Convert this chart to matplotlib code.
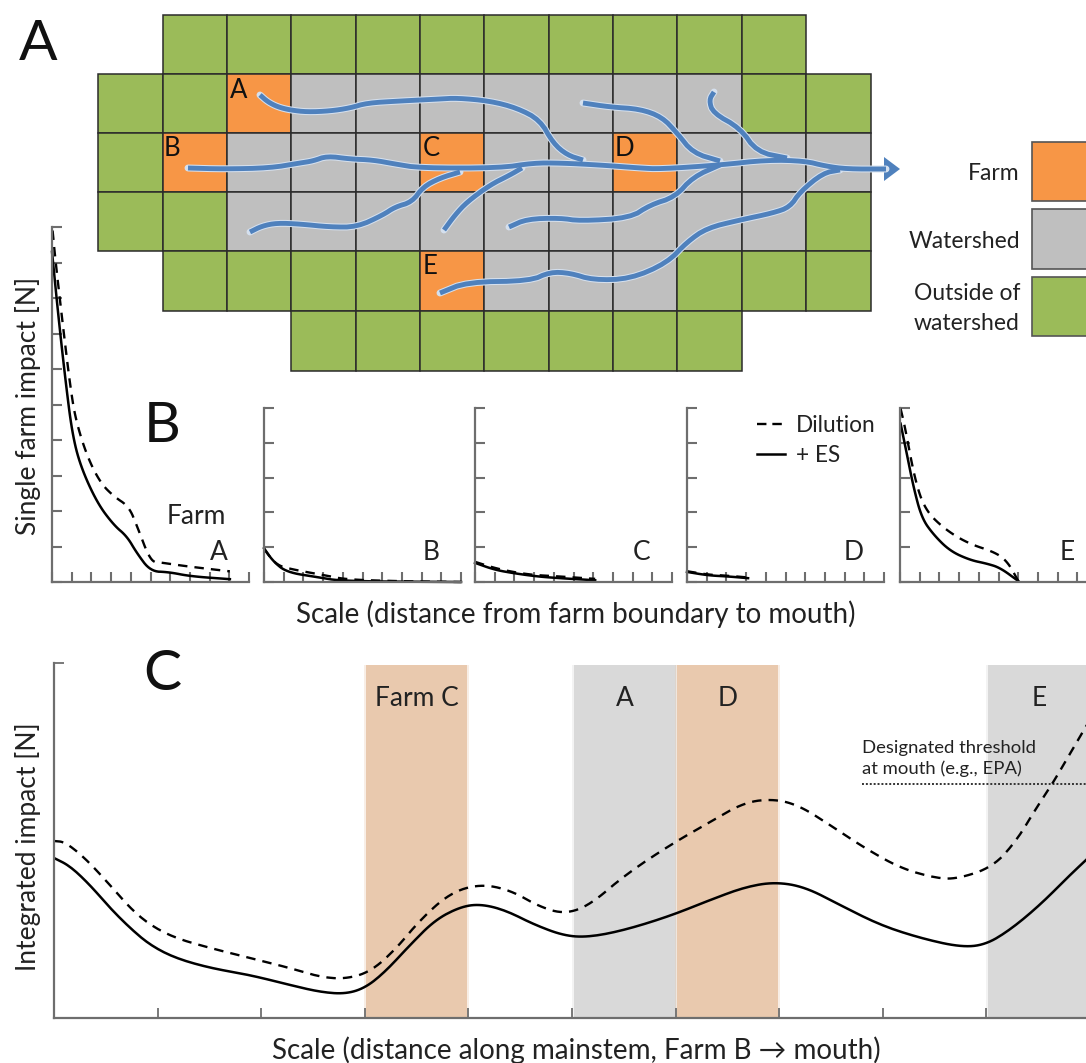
import numpy as np
import matplotlib
matplotlib.use("Agg")
import matplotlib.pyplot as plt

plt.rcParams['font.family'] = ['Lato', 'DejaVu Sans']

W, H = 1086, 1063

# map: 0 empty, 1 outside, 2 watershed, 3 farm
grid = [
    [0, 1, 1, 1, 1, 1, 1, 1, 1, 1, 1, 0],
    [1, 1, 3, 2, 2, 2, 2, 2, 2, 2, 1, 1],
    [1, 3, 2, 2, 2, 3, 2, 2, 3, 2, 2, 2],
    [1, 1, 2, 2, 2, 2, 2, 2, 2, 2, 2, 1],
    [0, 1, 1, 1, 1, 3, 2, 2, 2, 1, 1, 1],
    [0, 0, 0, 1, 1, 1, 1, 1, 1, 1, 0, 0],
]
x_edges = [98, 163, 227, 291, 356, 420, 484, 549, 613, 677, 742, 806, 871]
y_edges = [15, 74, 133, 192, 251, 311, 371]

# streams
stream_a = [(260, 95), (268, 102), (278, 107), (290, 110), (307, 112), (330, 111), (350, 108), (367, 103),
            (400, 101), (440, 99), (457, 98), (490, 101), (517, 108), (540, 120), (553, 143), (567, 155), (583, 160)]
stream_b = [(188, 168), (223, 169), (270, 168), (300, 163), (313, 161), (327, 156), (350, 159), (373, 160),
            (395, 164), (420, 168), (500, 168), (533, 163), (560, 163), (600, 165), (640, 168), (660, 169),
            (720, 165), (767, 160), (805, 161), (825, 166), (847, 169), (886, 169)]
stream_c = [(250, 232), (262, 226), (277, 223), (300, 224), (330, 227), (357, 227), (383, 215), (395, 207),
            (412, 202), (423, 187), (440, 178), (460, 172)]
stream_c2 = [(444, 230), (455, 215), (467, 202), (490, 185), (510, 175), (522, 168)]
stream_d = [(509, 227), (527, 219), (560, 218), (580, 221), (630, 218), (650, 205), (675, 197), (693, 177), (720, 165)]
stream_e = [(440, 293), (467, 282), (530, 281), (550, 272), (570, 273), (593, 280), (630, 279), (667, 263),
            (687, 242), (707, 228), (740, 220), (773, 213), (790, 207), (800, 192), (823, 173), (840, 170)]
stream_f = [(583, 103), (610, 107), (640, 109), (662, 117), (677, 133), (693, 153), (720, 161)]
stream_g = [(714, 92), (709, 100), (713, 113), (740, 128), (757, 152), (787, 158)]
streams = [stream_a, stream_b, stream_c, stream_c2, stream_d, stream_e, stream_f, stream_g]

# panel B curves, x in ticks (0-10), y in ticks
farm_names = ['A', 'B', 'C', 'D', 'E']
farm_left = [52, 264, 475, 687, 900]

a_es_x = [0, .34, .68, 1.02, 1.44, 2.29, 3.14, 3.8, 4.3, 5, 5.93, 7.03, 9.03]
a_es_y = [9.3, 7.4, 5.7, 4.2, 3.27, 2.23, 1.6, 1.29, .82, .3, .28, .16, .08]
a_dil_x = [.03, .17, .6, .93, 1.2, 1.78, 2.46, 3.14, 3.9, 4.32, 5, 5.5, 6.86, 9.03]
a_dil_y = [9.9, 9.08, 7.0, 5.5, 4.57, 3.54, 2.79, 2.41, 2.13, 1.57, .58, .55, .44, .3]
b_es_x = [0, .47, 1.15, 2.7, 4, 10]
b_es_y = [.97, .59, .28, .14, .02, 0]
b_dil_x = [0, .6, 1.35, 3.2, 4.2, 7, 10]
b_dil_y = [.95, .5, .37, .18, .07, .02, 0]
c_es_x = [0, 1, 2, 3, 4, 6.1]
c_es_y = [.55, .35, .25, .17, .12, .05]
c_dil_x = [0, 1, 2, 3, 4, 6.1]
c_dil_y = [.58, .4, .28, .2, .17, .09]
d_es_x = [0, 1.07, 2.08, 3.1]
d_es_y = [.29, .19, .16, .11]
d_dil_x = [0, 1.07, 2.08, 3.1]
d_dil_y = [.31, .21, .18, .13]
e_es_x = [.03, .34, .68, 1.1, 1.7, 2.54, 3.56, 4.4, 5.08, 6]
e_es_y = [4.55, 3.7, 2.74, 1.84, 1.36, .89, .63, .53, .41, .03]
e_dil_x = [.03, .25, .76, 1.27, 2.2, 3.4, 4.9, 5.5, 6]
e_dil_y = [4.98, 4.46, 2.93, 2.08, 1.55, 1.12, .84, .55, .03]

farm_es = [(a_es_x, a_es_y), (b_es_x, b_es_y), (c_es_x, c_es_y), (d_es_x, d_es_y), (e_es_x, e_es_y)]
farm_dil = [(a_dil_x, a_dil_y), (b_dil_x, b_dil_y), (c_dil_x, c_dil_y), (d_dil_x, d_dil_y), (e_dil_x, e_dil_y)]

# panel C curves
main_es_x = [0, 16, 36, 56, 76, 96, 121, 156, 196, 236, 266, 291, 311, 331, 356, 381, 406, 426, 451, 481, 511, 536,
             571, 616, 656, 691, 721, 751, 786, 826, 866, 906, 931, 956, 986, 1016, 1032]
main_es_y = [160, 152, 133, 110, 90, 73, 60, 50, 43, 33, 26, 24, 30, 46, 73, 98, 111, 114, 108, 93, 82, 81,
             88, 102, 118, 131, 136, 131, 113, 93, 80, 71, 73, 88, 113, 143, 158]
main_dil_x = [0, 11, 31, 56, 76, 96, 121, 156, 196, 236, 266, 291, 316, 341, 366, 396, 426, 456, 486, 511, 536, 571,
              616, 656, 691, 721, 746, 776, 809, 846, 881, 903, 939, 963, 981, 999, 1028, 1036]
main_dil_y = [177, 176, 160, 133, 110, 93, 80, 70, 60, 50, 41, 39, 46, 68, 98, 125, 134, 128, 111, 104, 113, 143,
              173, 196, 216, 219, 212, 193, 171, 150, 140, 139, 151, 178, 208, 235, 285, 298]
bands = [(312, 413, '#e9c9ae', 'Farm C'), (520, 622, '#d9d9d9', 'A'), (623, 724, '#e9c9ae', 'D'), (934, 1040, '#d9d9d9', 'E')]
threshold = 234

GREEN, GRAY, ORANGE, BLUE = '#9bbb59', '#bfbfbf', '#f79646', '#4f81bd'
AXC = '#6e6e6e'
TXT = '#222222'
cell_colors = {1: GREEN, 2: GRAY, 3: ORANGE}


def px_axes(fig, left, top, width, height):
    return fig.add_axes([left / W, 1 - (top + height) / H, width / W, height / H])


# round the corners of a read-off polyline so it draws as a curve
def rounded(x, y, n=3):
    p = np.column_stack([x, y]).astype(float)
    for _ in range(n):
        q = 0.75 * p[:-1] + 0.25 * p[1:]
        r = 0.25 * p[:-1] + 0.75 * p[1:]
        mid = np.empty((2 * len(q), 2))
        mid[0::2] = q
        mid[1::2] = r
        p = np.vstack([p[0], mid, p[-1]])
    return p[:, 0], p[:, 1]


fig = plt.figure(figsize=(W / 100, H / 100), dpi=100)

# whole figure axes in pixels for the map
bg = fig.add_axes([0, 0, 1, 1])
bg.set_xlim(0, W)
bg.set_ylim(H, 0)
bg.axis('off')

for r, row in enumerate(grid):
    for c, v in enumerate(row):
        if v == 0:
            continue
        bg.fill([x_edges[c], x_edges[c + 1], x_edges[c + 1], x_edges[c]],
                [y_edges[r], y_edges[r], y_edges[r + 1], y_edges[r + 1]],
                facecolor=cell_colors[v], edgecolor='#2b2b2b', lw=1.1)

for s in streams:
    s = np.array(s)
    sx, sy = rounded(s[:, 0], s[:, 1], 2)
    bg.plot(sx, sy, color='#d5e0ee', lw=5.0, solid_capstyle='round', solid_joinstyle='round')
for s in streams:
    s = np.array(s)
    sx, sy = rounded(s[:, 0], s[:, 1], 2)
    bg.plot(sx, sy, color=BLUE, lw=3.5, solid_capstyle='butt', solid_joinstyle='round')
bg.fill([884, 900, 884], [157, 169, 181], color=BLUE, lw=0)

for name, x, y in [('A', 239, 91), ('B', 172, 149), ('C', 431, 149), ('D', 624, 149), ('E', 430, 267)]:
    bg.text(x, y, name, fontsize=18.5, ha='center', va='center', color='#111111')

# legend of the map
for top, bottom, c in [(142, 201, ORANGE), (209, 269, GRAY), (277, 336, GREEN)]:
    bg.fill([1032, 1090, 1090, 1032], [top, top, bottom, bottom], facecolor=c, edgecolor='#555555', lw=1.2)
bg.text(1020, 173, 'Farm', fontsize=16.5, ha='right', va='center', color=TXT)
bg.text(1020, 241, 'Watershed', fontsize=16.5, ha='right', va='center', color=TXT)
bg.text(1020, 294, 'Outside of', fontsize=16.5, ha='right', va='center', color=TXT)
bg.text(1020, 323, 'watershed', fontsize=16.5, ha='right', va='center', color=TXT)

bg.text(38, 45, 'A', fontsize=41, ha='center', va='center', color='#111111')
bg.text(162, 426, 'B', fontsize=41, ha='center', va='center', color='#111111')
bg.text(162, 675, 'C', fontsize=41, ha='center', va='center', color='#111111')

bg.text(28, 406, 'Single farm impact [N]', fontsize=19, rotation=90, ha='center', va='center', color=TXT)
bg.text(28, 847, 'Integrated impact [N]', fontsize=19, rotation=90, ha='center', va='center', color=TXT)
bg.text(576, 614, 'Scale (distance from farm boundary to mouth)', fontsize=20, ha='center', va='center', color=TXT)
bg.text(576, 1050, 'Scale (distance along mainstem, Farm B \u2192 mouth)', fontsize=20, ha='center', va='center', color=TXT)

# panel B
for i, name in enumerate(farm_names):
    top = 227 if i == 0 else 408
    nmax = 10 if i == 0 else 5
    ax = px_axes(fig, farm_left[i], top, 197, 582 - top)
    ax.patch.set_alpha(0)
    ax.set_xlim(0, 10)
    ax.set_ylim(0, nmax)
    ax.set_xticks(range(11))
    ax.set_yticks(range(nmax + 1))
    ax.set_xticklabels([])
    ax.set_yticklabels([])
    ax.tick_params(direction='in', length=7.5, width=1.5, color=AXC)
    for sp in ['top', 'right']:
        ax.spines[sp].set_visible(False)
    for sp in ['left', 'bottom']:
        ax.spines[sp].set_color(AXC)
        ax.spines[sp].set_linewidth(1.6)
    dx, dy = rounded(farm_dil[i][0], farm_dil[i][1])
    ex, ey = rounded(farm_es[i][0], farm_es[i][1])
    ax.plot(dx, dy, color='black', lw=1.7, ls=(0, (4, 3)), clip_on=False)
    ax.plot(ex, ey, color='black', lw=1.8, clip_on=False)
    bg.text(farm_left[i] + 167, 552, name, fontsize=19, ha='center', va='center', color=TXT)

bg.text(196, 516, 'Farm', fontsize=19, ha='center', va='center', color=TXT)
bg.plot([757, 785], [424, 424], color='black', lw=1.7, ls=(0, (4, 2.5)))
bg.plot([757, 785], [454, 454], color='black', lw=1.8)
bg.text(796, 425, 'Dilution', fontsize=16.3, ha='left', va='center', color=TXT)
bg.text(796, 455, '+ ES', fontsize=16.3, ha='left', va='center', color=TXT)

# panel C
ax = px_axes(fig, 54, 663, 1036, 355)
ax.patch.set_alpha(0)
ax.set_xlim(0, 1036)
ax.set_ylim(0, 355)
ax.set_xticks(np.arange(10) * 103.6)
ax.set_yticks([0, 355])
ax.set_xticklabels([])
ax.set_yticklabels([])
ax.tick_params(direction='in', length=7.5, width=1.3, color=AXC)
for sp in ['top', 'right']:
    ax.spines[sp].set_visible(False)
for sp in ['left', 'bottom']:
    ax.spines[sp].set_color(AXC)
    ax.spines[sp].set_linewidth(1.6)
for x0, x1, c, label in bands:
    # soft edge like the blurred boxes
    ax.axvspan(x0 - 2, x1 + 2, ymax=0.995, color=c, lw=0, alpha=0.3, zorder=0)
    ax.axvspan(x0, x1, ymax=0.995, color=c, lw=0, zorder=0)
    ax.text((x0 + x1) / 2 - (2 if label == 'E' else 0), 320, label, fontsize=19, ha='center', va='center', color=TXT)
ax.plot([808, 1036], [threshold, threshold], color='#333333', lw=1.4, ls=(0, (1, 1)))
ax.text(808, 270, 'Designated threshold', fontsize=13.3, ha='left', va='center', color=TXT)
ax.text(808, 249, 'at mouth (e.g., EPA)', fontsize=13.3, ha='left', va='center', color=TXT)
mx, my = rounded(main_dil_x, main_dil_y)
ax.plot(mx, my, color='black', lw=1.7, ls=(0, (4, 3)))
mx, my = rounded(main_es_x, main_es_y)
ax.plot(mx, my, color='black', lw=1.8)

fig.savefig('out.png', dpi=100)
